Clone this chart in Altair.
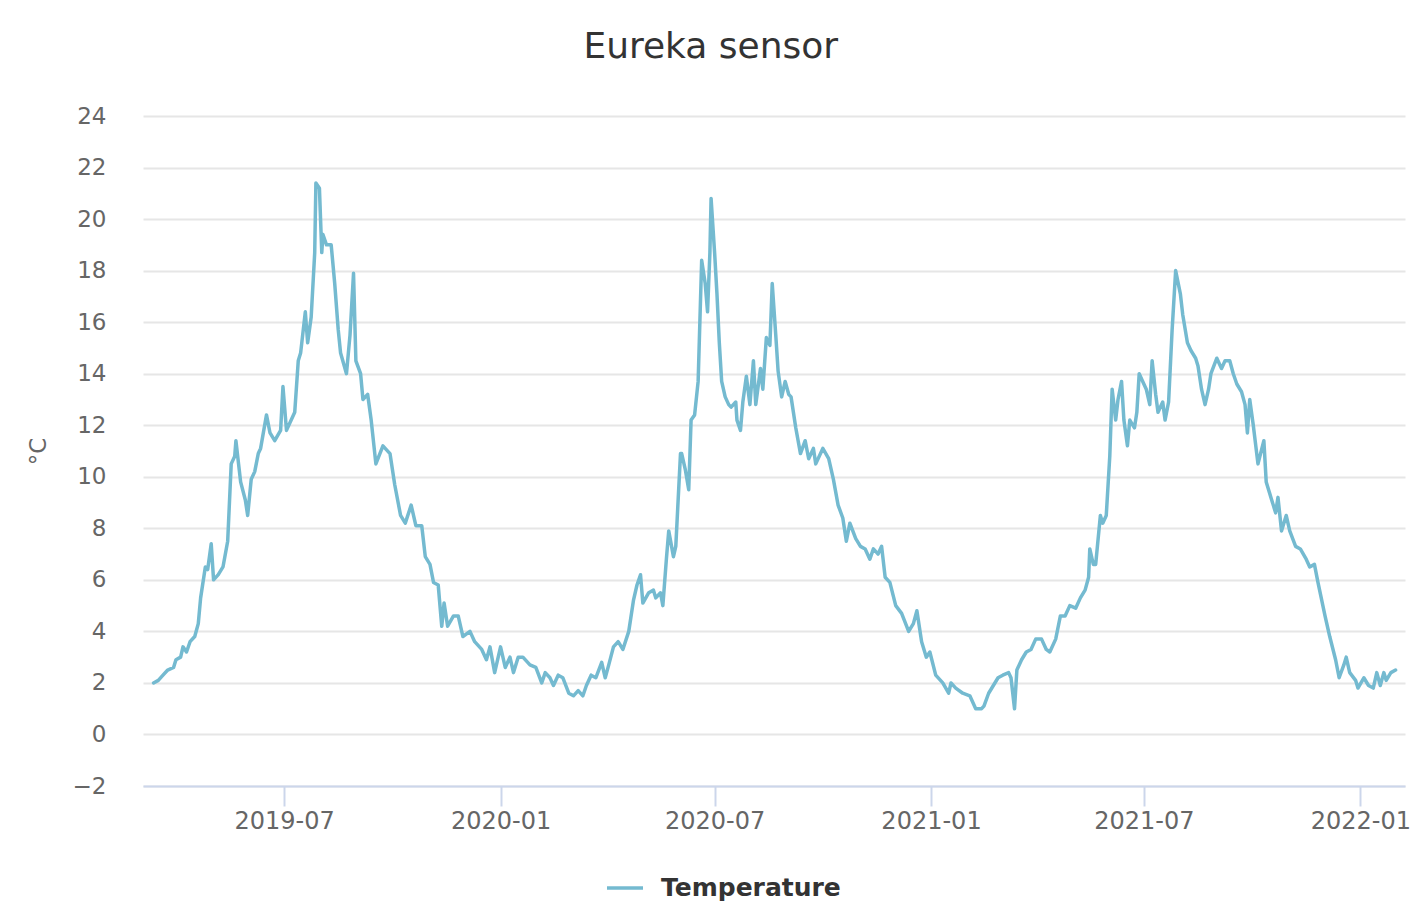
import altair as alt
import pandas as pd

# ---- data ----
START_DATE = "2019-03-01"  # day offsets below count from this date

DAY_OFFSET = [
    11, 15, 19, 23, 28, 30, 34, 36, 39, 42, 46, 49, 51, 55, 57, 60, 62, 66, 70, 74,
    77, 80, 81, 85, 89, 91, 94, 97, 100, 102, 107, 110, 114, 119, 121, 124, 128, 131, 134, 136,
    140, 142, 145, 148, 149, 152, 154, 155, 158, 162, 165, 168, 170, 175, 178, 181, 183,
    187, 189, 193, 196, 200, 206, 212, 216, 221, 225, 230, 234, 239, 242, 246, 249, 253, 256,
    258, 261, 266, 270, 274, 280, 284, 290, 294, 297, 301, 306, 310, 314, 317, 321, 325, 331,
    336, 341, 344, 348, 351, 355, 359, 364,
    368, 372, 376, 379, 383, 387, 392, 395, 398, 402, 406, 410, 415, 419, 422, 425, 427, 432,
    436, 438, 442, 444, 447, 449, 453, 455, 459, 460, 463, 466, 468, 471, 474, 477, 480, 482,
    484, 485, 488, 490, 492, 494, 497, 500, 502, 506, 507, 510, 512, 515, 518, 521, 523, 527,
    529, 532, 535, 537, 540,
    542, 545, 548, 551, 553, 557, 561, 565, 568, 572, 574, 580, 585, 589, 593, 597, 600, 603,
    608, 612, 616, 620, 623, 627, 630, 633, 637, 642, 647, 653, 657, 660, 664, 668, 671, 676,
    682, 687, 689, 693, 699, 705, 710, 715,
    717, 721, 725, 729, 733, 738, 740, 743, 745, 749, 753, 757, 761, 766, 770, 773, 778, 782,
    786, 790, 795, 799, 803, 806, 807, 810, 812, 816, 818, 821, 824, 826, 829, 831, 834, 836,
    839, 841, 845, 847, 849, 852, 855, 858, 860, 863, 865, 869, 871, 874, 877, 880, 884, 886,
    890, 893, 897,
    899, 902, 905, 908, 910, 915, 919, 922, 926, 929, 932, 936, 939, 941, 943, 946, 950, 955,
    957, 961, 965, 967, 970, 974, 977, 982, 986, 991, 994, 998, 1001, 1007, 1011, 1016, 1019,
    1023, 1025, 1028, 1033, 1035, 1040, 1044, 1048, 1051, 1054, 1057, 1059, 1063, 1067,
]

TEMPERATURE = [
    2.0, 2.1, 2.3, 2.5, 2.6, 2.9, 3.0, 3.4, 3.2, 3.6, 3.8, 4.3, 5.3, 6.5, 6.4, 7.4, 6.0, 6.2, 6.5, 7.5,
    10.5, 10.8, 11.4, 9.8, 9.1, 8.5, 9.9, 10.2, 10.9, 11.1, 12.4, 11.7, 11.4, 11.8, 13.5, 11.8, 12.2, 12.5, 14.5, 14.8,
    16.4, 15.2, 16.2, 18.7, 21.4, 21.2, 18.7, 19.4, 19.0, 19.0, 17.5, 15.7, 14.8, 14.0, 15.5, 17.9, 14.5,
    14.0, 13.0, 13.2, 12.2, 10.5, 11.2, 10.9, 9.7, 8.5, 8.2, 8.9, 8.1, 8.1, 6.9, 6.6, 5.9, 5.8, 4.2,
    5.1, 4.2, 4.6, 4.6, 3.8, 4.0, 3.6, 3.3, 2.9, 3.4, 2.4, 3.4, 2.6, 3.0, 2.4, 3.0, 3.0, 2.7,
    2.6, 2.0, 2.4, 2.2, 1.9, 2.3, 2.2, 1.6,
    1.5, 1.7, 1.5, 1.9, 2.3, 2.2, 2.8, 2.2, 2.7, 3.4, 3.6, 3.3, 4.0, 5.2, 5.8, 6.2, 5.1, 5.5,
    5.6, 5.3, 5.5, 5.0, 6.8, 7.9, 6.9, 7.3, 10.9, 10.9, 10.3, 9.5, 12.2, 12.4, 13.7, 18.4, 17.5, 16.4,
    18.7, 20.8, 18.7, 17.1, 15.2, 13.7, 13.1, 12.8, 12.7, 12.9, 12.2, 11.8, 12.9, 13.9, 12.8, 14.5, 12.8, 14.2,
    13.4, 15.4, 15.1, 17.5, 15.5,
    14.1, 13.1, 13.7, 13.2, 13.1, 11.9, 10.9, 11.4, 10.7, 11.1, 10.5, 11.1, 10.7, 9.9, 8.9, 8.4, 7.5, 8.2,
    7.6, 7.3, 7.2, 6.8, 7.2, 7.0, 7.3, 6.1, 5.9, 5.0, 4.7, 4.0, 4.3, 4.8, 3.6, 3.0, 3.2, 2.3,
    2.0, 1.6, 2.0, 1.8, 1.6, 1.5, 1.0, 1.0,
    1.1, 1.6, 1.9, 2.2, 2.3, 2.4, 2.2, 1.0, 2.5, 2.9, 3.2, 3.3, 3.7, 3.7, 3.3, 3.2, 3.7, 4.6,
    4.6, 5.0, 4.9, 5.3, 5.6, 6.1, 7.2, 6.6, 6.6, 8.5, 8.2, 8.5, 10.8, 13.4, 12.2, 13.0, 13.7, 12.2,
    11.2, 12.2, 11.9, 12.5, 14.0, 13.7, 13.4, 12.8, 14.5, 13.2, 12.5, 12.9, 12.2, 12.9, 15.7, 18.0, 17.1, 16.3,
    15.2, 14.9, 14.6,
    14.3, 13.4, 12.8, 13.4, 14.0, 14.6, 14.2, 14.5, 14.5, 14.0, 13.6, 13.3, 12.8, 11.7, 13.0, 12.0, 10.5, 11.4,
    9.8, 9.2, 8.6, 9.2, 7.9, 8.5, 7.9, 7.3, 7.2, 6.8, 6.5, 6.6, 5.9, 4.6, 3.8, 2.9, 2.2,
    2.7, 3.0, 2.4, 2.1, 1.8, 2.2, 1.9, 1.8, 2.4, 1.9, 2.4, 2.1, 2.4, 2.5,
]

SERIES_NAME = "Temperature"
TITLE = "Eureka sensor"
Y_TITLE = "°C"
X_TICKS = ["2019-07", "2020-01", "2020-07", "2021-01", "2021-07", "2022-01"]
Y_TICKS = [-2, 0, 2, 4, 6, 8, 10, 12, 14, 16, 18, 20, 22, 24]
X_DOMAIN = [(2019, 3, 3), (2022, 2, 8)]
Y_DOMAIN = [-2, 24]

# ---- styling ----
FONT = "DejaVu Sans"
LINE_COLOR = "#74bad0"
GRID_COLOR = "#e6e6e6"
AXIS_COLOR = "#ccd6eb"
LABEL_COLOR = "#666666"
TITLE_COLOR = "#333333"

dates = (pd.Timestamp(START_DATE) + pd.to_timedelta(DAY_OFFSET, unit="D")).strftime("%Y-%m-%d")
df = pd.DataFrame({"date": list(dates), "temperature": TEMPERATURE, "series": SERIES_NAME})

x_tick_values = [alt.DateTime(year=int(s[:4]), month=int(s[5:]), date=1, utc=True) for s in X_TICKS]
x_domain = [alt.DateTime(year=y, month=m, date=d, utc=True) for (y, m, d) in X_DOMAIN]

chart = (
    alt.Chart(df)
    .mark_line(strokeWidth=3.5, strokeJoin="round", strokeCap="round")
    .encode(
        x=alt.X(
            "date:T",
            scale=alt.Scale(type="utc", domain=x_domain),
            axis=alt.Axis(
                values=x_tick_values,
                format="%Y-%m",
                title=None,
                grid=False,
                domainColor=AXIS_COLOR,
                domainWidth=2,
                tickColor=AXIS_COLOR,
                tickWidth=2,
                tickSize=20,
                labelPadding=3,
                labelFont=FONT,
                labelFontSize=24,
                labelColor=LABEL_COLOR,
                labelFlush=False,
                labelOverlap=False,
            ),
        ),
        y=alt.Y(
            "temperature:Q",
            scale=alt.Scale(domain=Y_DOMAIN, nice=False, zero=False),
            axis=alt.Axis(
                values=Y_TICKS,
                title=Y_TITLE,
                titleFont=FONT,
                titleFontSize=23,
                titleFontWeight="normal",
                titleColor=LABEL_COLOR,
                titlePadding=22,
                domain=False,
                ticks=False,
                labelPadding=37,
                labelFont=FONT,
                labelFontSize=23,
                labelColor=LABEL_COLOR,
                gridColor=GRID_COLOR,
                gridWidth=2,
            ),
        ),
        color=alt.Color(
            "series:N",
            scale=alt.Scale(range=[LINE_COLOR]),
            legend=alt.Legend(
                title=None,
                orient="none",
                legendX=462,
                legendY=752,
                direction="horizontal",
                symbolType="stroke",
                symbolSize=1296,
                symbolStrokeWidth=3.5,
                labelFont=FONT,
                labelFontSize=25,
                labelFontWeight="bold",
                labelColor=TITLE_COLOR,
                labelOffset=16,
                labelLimit=600,
                padding=0,
            ),
        ),
    )
    .properties(
        width=1262,
        height=670,
        title=alt.Title(
            TITLE,
            font=FONT,
            fontSize=36,
            fontWeight="normal",
            color=TITLE_COLOR,
            anchor="middle",
            frame="bounds",
            offset=39,
            dx=-8,
        ),
        padding={"left": 135, "top": 108, "right": 6, "bottom": 119},
        autosize=alt.AutoSizeParams(type="none"),
    )
    .configure_view(stroke=None)
)

chart.save("out.html", embed_options={"renderer": "svg", "actions": False})
